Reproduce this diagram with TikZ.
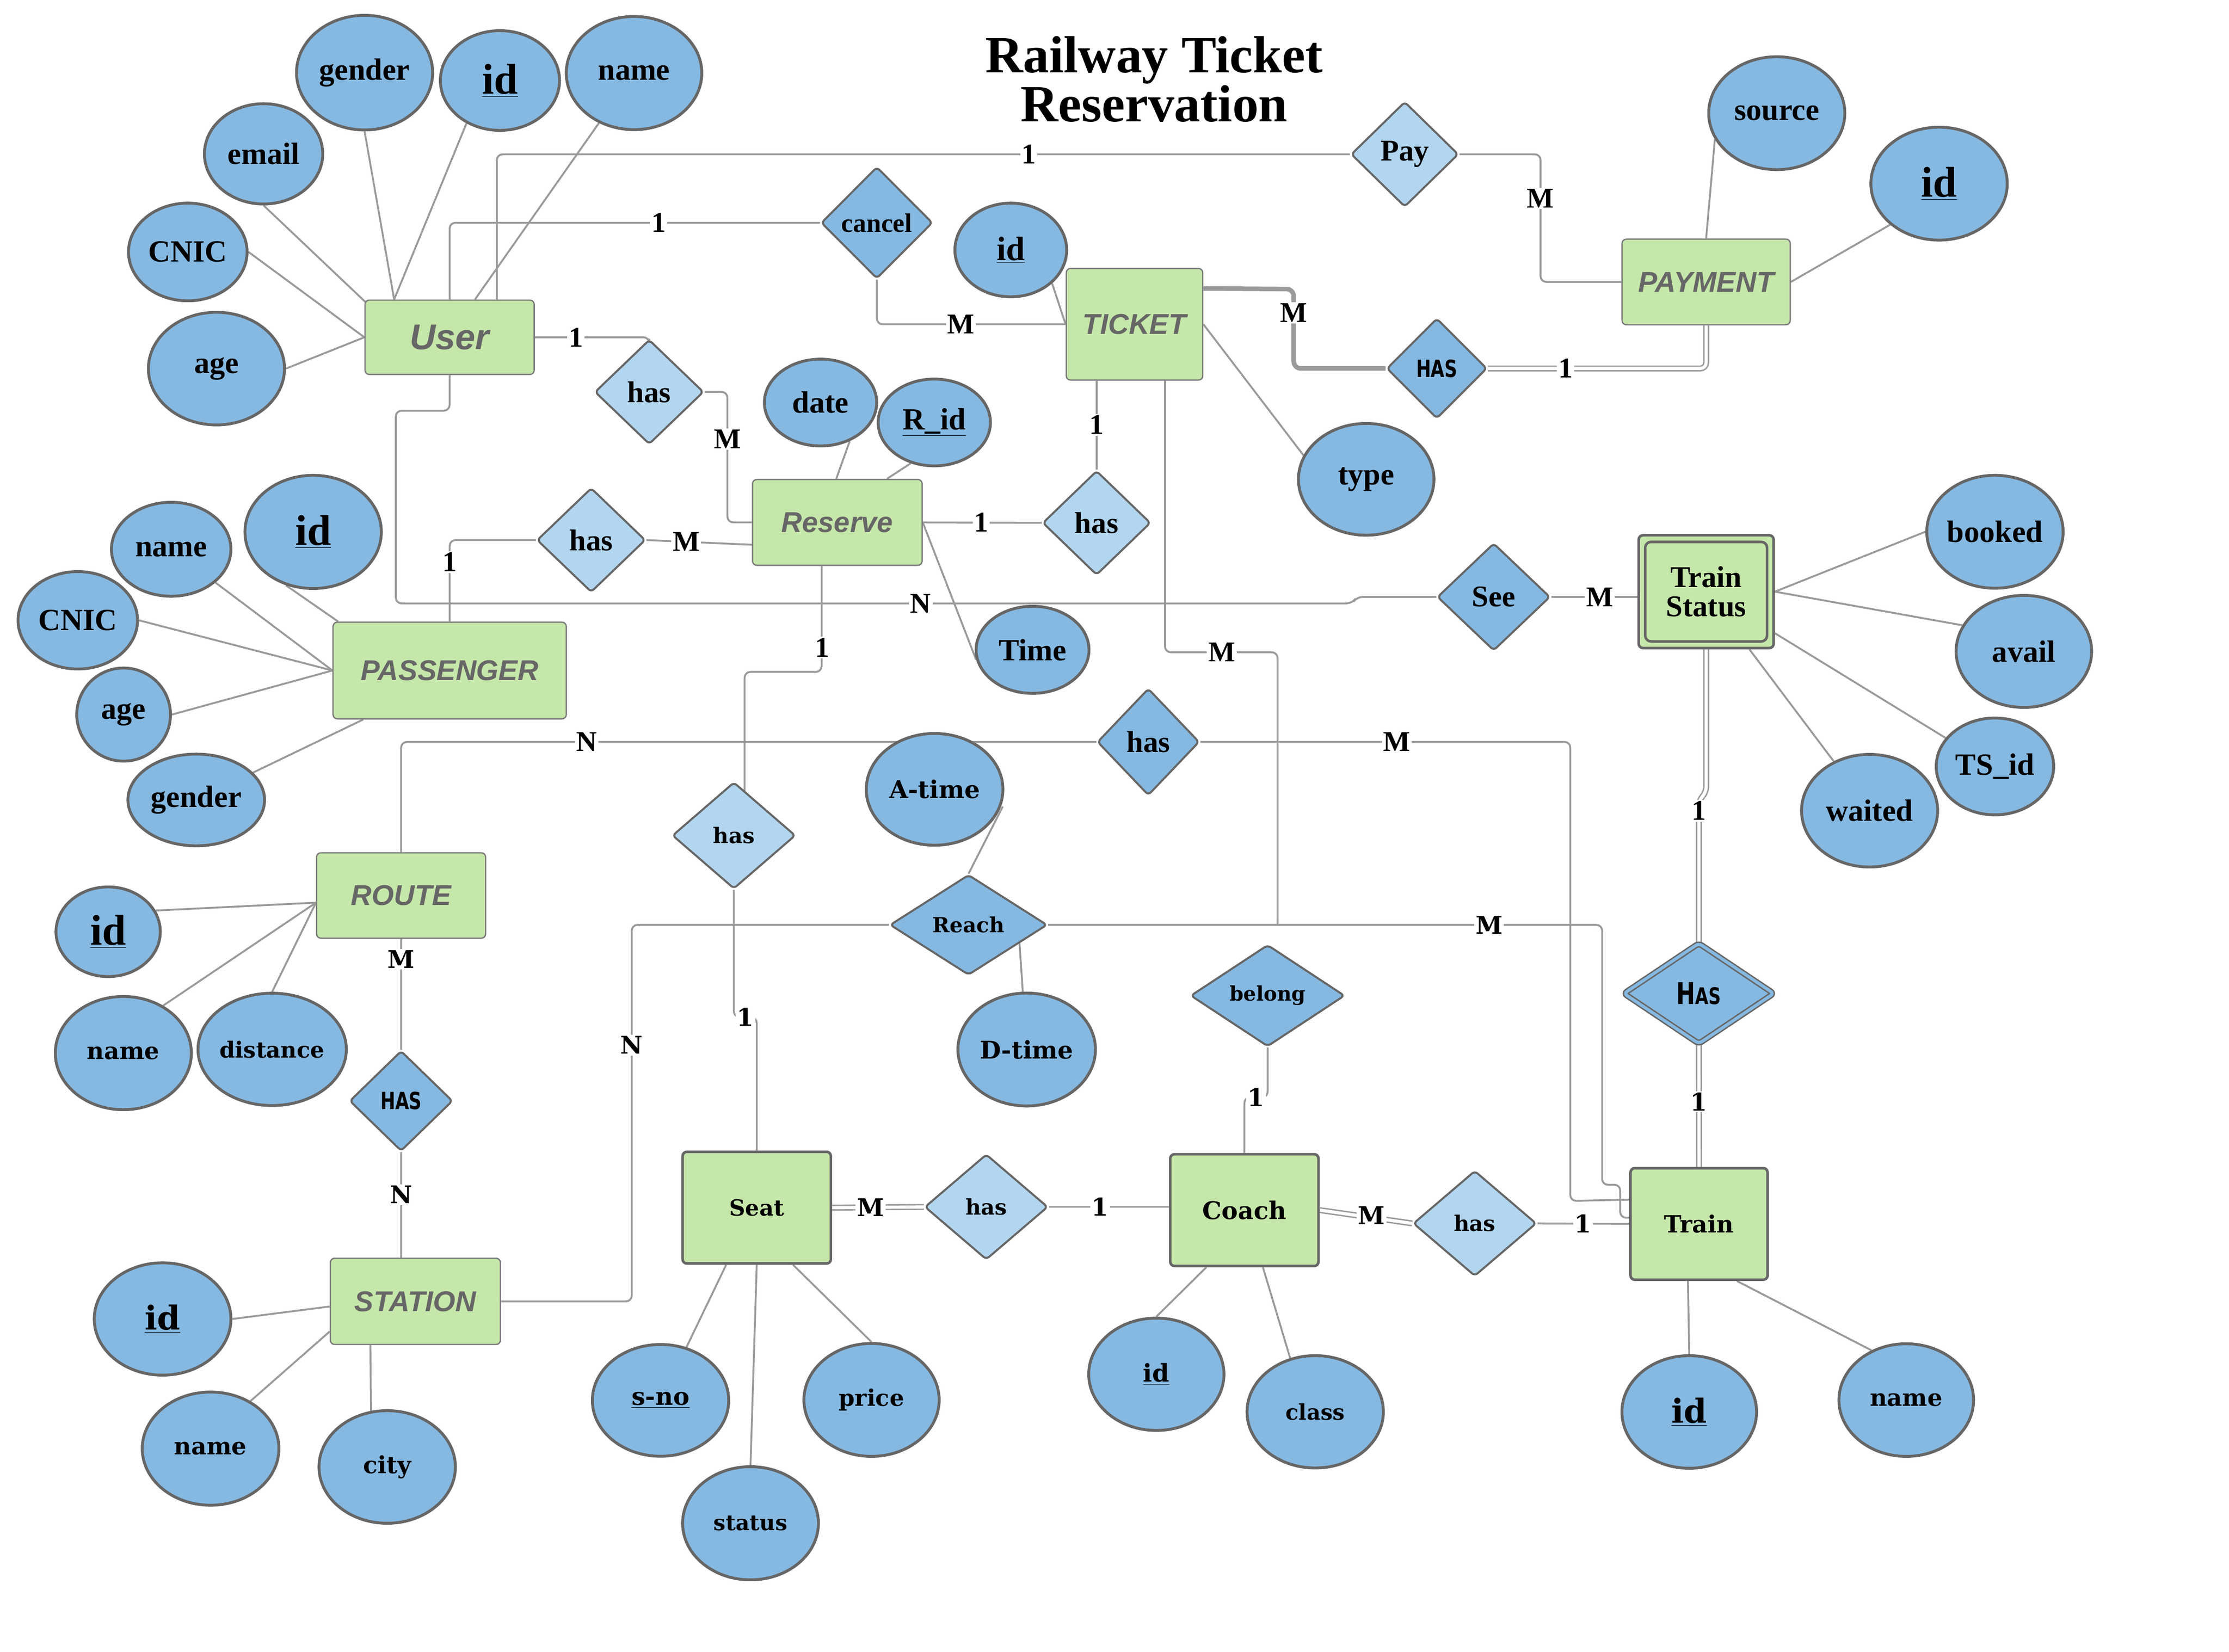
\documentclass[tikz,border=0pt]{standalone}
\usepackage{fontspec}
\setmainfont{Liberation Serif}
\newfontfamily\entfont{Liberation Sans}
\newfontfamily\wdfont{DejaVu Serif}
\newfontfamily\hvfont{DejaVu Sans}[FakeStretch=0.75]
\usetikzlibrary{shapes.geometric,calc}
\pgfdeclarelayer{bg}
\pgfsetlayers{bg,main}
\definecolor{attrfill}{HTML}{85B9E2}
\definecolor{relfill}{HTML}{B3D6F0}
\definecolor{entfill}{HTML}{C6E7AA}
\definecolor{edgec}{HTML}{666666}
\definecolor{entline}{HTML}{7A7A7A}
\definecolor{connc}{HTML}{9A9A9A}
\definecolor{enttext}{HTML}{666666}
\newcommand\fattr{\fontsize{21.5}{23}\selectfont\bfseries}
\newcommand\fidbig{\fontsize{30}{32}\selectfont\bfseries}
\newcommand\fidmid{\fontsize{23.5}{25}\selectfont\bfseries}
\newcommand\fwide{\wdfont\fontsize{16}{18}\selectfont\bfseries}
\newcommand\fent{\entfont\fontsize{20}{22}\selectfont\bfseries\itshape}
\newcommand\frel{\fontsize{21}{23}\selectfont\bfseries}
\newcommand\fcard{\fontsize{20}{20}\selectfont\bfseries}
\newcommand\fcardw{\wdfont\fontsize{17}{17}\selectfont\bfseries}
\newcommand\ftitle{\fontsize{36.5}{38}\selectfont\bfseries}
\newcommand\fhv{\hvfont\fontsize{16.5}{17}\selectfont\bfseries}
\begin{document}
\begin{tikzpicture}[x=1pt,y=-1pt,
  attr/.style 2 args={ellipse, draw=edgec, line width=2pt, fill=attrfill, inner sep=0pt, minimum width={2*#1pt}, minimum height={2*#2pt}, font=\fattr},
  rel/.style 2 args={diamond, draw=edgec, line width=1.4pt, rounded corners=2.5pt, fill=attrfill, inner sep=0pt, minimum width={#1pt}, minimum height={#2pt}, font=\frel},
  ent/.style 2 args={rectangle, draw=entline, line width=0.9pt, rounded corners=3pt, fill=entfill, inner sep=0pt, minimum width={#1pt}, minimum height={#2pt}, font=\fent, text=enttext},
  ents/.style 2 args={rectangle, draw=edgec, line width=1.8pt, rounded corners=3pt, fill=entfill, inner sep=0pt, minimum width={#1pt}, minimum height={#2pt}, font=\fwide},
  conn/.style={draw=connc, line width=1.3pt, rounded corners=4pt},
  aline/.style={draw=connc, line width=1.3pt},
  dbl/.style={draw=connc, line width=1pt, double=white, double distance=2.2pt, rounded corners=4pt},
  thk/.style={draw=connc, line width=3.2pt, rounded corners=5pt},
  card/.style={fill=white, inner sep=1pt, font=\fcard},
  cardw/.style={fill=white, inner sep=1pt, font=\fcardw}]
\useasboundingbox (0,0) rectangle (1556,1153);

% title
\node[font=\ftitle, anchor=base] (title1) at (805.6,50.7) {Railway Ticket};
\node[font=\ftitle, anchor=base] (title2) at (805.6,84.9) {Reservation};

% entities
\node[ent={118.1}{51.9}, font=\entfont\fontsize{25}{27}\selectfont\bfseries\itshape] (User) at (313.85,235.45) {User};
\node[ent={95.3}{77.9}] (TICKET) at (791.95,226.35) {TICKET};
\node[ent={117.4}{59.8}] (PAYMENT) at (1191,196.8) {PAYMENT};
\node[ent={118.4}{59.9}] (Reserve) at (584.5,364.65) {Reserve};
\node[ent={162.8}{67.5}] (PASSENGER) at (313.9,468.05) {PASSENGER};
\node[ent={118}{59.6}] (ROUTE) at (280,625.1) {ROUTE};
\node[ent={118.7}{60.2}] (STATION) at (289.95,908.4) {STATION};
\node[ents={103.5}{78}, font=\wdfont\fontsize{15.5}{17}\selectfont\bfseries] (Seat) at (528.25,843) {Seat};
\node[ents={103.5}{78}, font=\wdfont\fontsize{17}{19}\selectfont\bfseries] (Coach) at (868.65,844.7) {Coach};
\node[ents={95.7}{77.9}, font=\wdfont\fontsize{16.5}{18}\selectfont\bfseries] (Train) at (1186.05,854.35) {Train};
\node[ent={94.2}{78.7}, draw=edgec, line width=1.8pt] (TS) at (1191,413) {};
\node[rectangle, draw=edgec, line width=1.8pt, rounded corners=4pt, minimum width=85pt, minimum height=69.5pt, inner sep=0pt, align=center, font=\fontsize{21}{20.5}\selectfont\bfseries] (TSin) at (1191,413) {Train\\Status};

% relationships
\node[rel={75}{73.4}, fill=relfill] (Pay) at (980.6,107.7) {Pay};
\node[rel={77.8}{78}, font=\fontsize{18.5}{20}\selectfont\bfseries] (cancel) at (612.1,155.5) {cancel};
\node[rel={76}{73}, fill=relfill] (has1) at (453.2,273.6) {has};
\node[rel={70}{70}, font=\fhv] (HASa) at (1003,257.2) {HAS};
\node[rel={75.4}{72.8}, fill=relfill] (has2) at (765.5,365) {has};
\node[rel={75.8}{72.8}, fill=relfill] (has3) at (412.7,377) {has};
\node[rel={78.8}{75}] (See) at (1042.7,416.7) {See};
\node[rel={71.2}{74.6}] (has4) at (801.6,517.9) {has};
\node[rel={86}{74.4}, fill=relfill, font=\wdfont\fontsize{15}{17}\selectfont\bfseries] (has5) at (512.3,583.2) {has};
\node[rel={109.8}{70}, font=\wdfont\fontsize{14.5}{16}\selectfont\bfseries] (Reach) at (676.1,645.6) {Reach};
\node[rel={107.6}{71}, font=\wdfont\fontsize{14}{16}\selectfont\bfseries] (belong) at (884.9,695) {belong};
\node[rel={105}{70.4}, line width=1pt, double=attrfill, double distance=2.2pt] (HasD) at (1185.9,693.5) {\hvfont\bfseries\fontsize{21}{21}\selectfont H\fontsize{16}{16}\selectfont AS};
\node[rel={72}{70}, font=\fhv] (HASb) at (280,768.5) {HAS};
\node[rel={86}{73.6}, fill=relfill, font=\wdfont\fontsize{15}{17}\selectfont\bfseries] (has6) at (688.5,842.5) {has};
\node[rel={86}{73.6}, fill=relfill, font=\wdfont\fontsize{15}{17}\selectfont\bfseries] (has7) at (1029.5,854) {has};

% attributes
\node[attr={47.5}{40}] (ugender) at (254.5,50.7) {gender};
\node[attr={41.6}{34.8}, font=\fidbig] (uid) at (349,56.2) {\underline{id}};
\node[attr={47.3}{39.5}] (uname) at (442.6,51) {name};
\node[attr={41.3}{35}] (uemail) at (184,107.4) {email};
\node[attr={41.4}{34.1}] (ucnic) at (131.1,175.9) {CNIC};
\node[attr={47.5}{39.3}] (uage) at (151.1,257.3) {age};
\node[attr={39}{32.7}, font=\fidmid] (tid) at (705.6,174.5) {\underline{id}};
\node[attr={47.3}{39}] (ttype) at (953.7,334.6) {type};
\node[attr={47.5}{39.4}] (psource) at (1240.3,79) {source};
\node[attr={47.6}{39.4}, font=\fidbig] (pid) at (1353.6,128.2) {\underline{id}};
\node[attr={39.2}{30.3}] (rdate) at (572.8,281) {date};
\node[attr={39.2}{30.3}] (rrid) at (652.2,294.9) {\underline{R\_id}};
\node[attr={39.4}{30.4}] (rtime) at (720.8,453.6) {Time};
\node[attr={41.7}{32.8}] (psname) at (119.5,383.4) {name};
\node[attr={47.6}{39.5}, font=\fidbig] (psid) at (218.6,371.3) {\underline{id}};
\node[attr={41.7}{34}] (pscnic) at (54.3,433) {CNIC};
\node[attr={32.7}{32.5}] (psage) at (86.3,498.8) {age};
\node[attr={47.7}{32}] (psgender) at (137,558.4) {gender};
\node[attr={36.4}{31.3}, font=\fidbig] (roid) at (75.5,650.4) {\underline{id}};
\node[attr={47.5}{39.5}, font=\wdfont\fontsize{16.5}{18}\selectfont\bfseries] (roname) at (86.1,735.1) {name};
\node[attr={47.5}{39.2}, font=\wdfont\fontsize{15.5}{18}\selectfont\bfseries] (rodist) at (190,732.5) {distance};
\node[attr={47.7}{39.2}, font=\wdfont\fontsize{23}{25}\selectfont\bfseries] (stid) at (113.5,920.7) {\underline{id}};
\node[attr={47.7}{39.5}, font=\wdfont\fontsize{16.5}{18}\selectfont\bfseries] (stname) at (147,1011.2) {name};
\node[attr={47.6}{39.3}, font=\wdfont\fontsize{16.5}{18}\selectfont\bfseries] (stcity) at (270.3,1024) {city};
\node[attr={47.6}{39}, font=\wdfont\fontsize{17}{18}\selectfont\bfseries] (sesno) at (461.1,977.5) {\underline{s-no}};
\node[attr={47.2}{39.4}, font=\wdfont\fontsize{16}{18}\selectfont\bfseries] (seprice) at (608.4,977.2) {price};
\node[attr={47.4}{39.5}, font=\wdfont\fontsize{15}{18}\selectfont\bfseries] (sestatus) at (523.9,1063.3) {status};
\node[attr={47.2}{39.2}, font=\wdfont\fontsize{17}{18}\selectfont\bfseries] (coid) at (807.2,959.3) {\underline{id}};
\node[attr={47.6}{39.2}, font=\wdfont\fontsize{15}{18}\selectfont\bfseries] (coclass) at (918.1,985.5) {class};
\node[attr={47}{39.3}, font=\wdfont\fontsize{23}{25}\selectfont\bfseries] (trid) at (1179.2,985.6) {\underline{id}};
\node[attr={47}{39.3}, font=\wdfont\fontsize{16.5}{18}\selectfont\bfseries] (trname) at (1330.7,977.3) {name};
\node[attr={47.6}{39.4}] (tsbooked) at (1392.6,371.2) {booked};
\node[attr={47.3}{39.1}] (tsavail) at (1412.8,454.7) {avail};
\node[attr={41}{33.8}] (tsid) at (1392.6,535) {TS\_id};
\node[attr={47.5}{39.3}] (tswaited) at (1305.1,565.9) {waited};
\node[attr={47.7}{39}, font=\wdfont\fontsize{17}{18}\selectfont\bfseries] (atime) at (652.4,551) {A-time};
\node[attr={48}{39.4}, font=\wdfont\fontsize{17}{18}\selectfont\bfseries] (dtime) at (716.7,732.6) {D-time};

\begin{pgfonlayer}{bg}
% attribute links
\draw[aline] (ugender.south) -- ($(User.north west)+(20.8,0)$);
\draw[aline] (uid.-128) -- ($(User.north west)+(20.8,0)$);
\draw[aline] (uname) -- ($(User.north west)+(77.2,0)$);
\draw[aline] (uemail.south) -- ($(User.north west)+(1,2)$);
\draw[aline] (ucnic.east) -- (User.west);
\draw[aline] (uage.east) -- (User.west);
\draw[aline] (tid.-39) -- (TICKET.west);
\draw[aline] (TICKET.east) -- (ttype.159);
\draw[aline] (psource.-157) -- (PAYMENT.north);
\draw[aline] (pid.-140) -- (PAYMENT.east);
\draw[aline] (rdate.-53) -- ($(Reserve.north west)+(58.9,0)$);
\draw[aline] (rrid.-120) -- ($(Reserve.north west)+(94.3,0)$);
\draw[aline] (Reserve.east) -- (rtime.-170);
\draw[aline] (psid.-117) -- ($(PASSENGER.north west)+(4,0)$);
\draw[aline] (psname) -- (PASSENGER.west);
\draw[aline] (pscnic.east) -- (PASSENGER.west);
\draw[aline] (psage.east) -- (PASSENGER.west);
\draw[aline] (psgender) -- ($(PASSENGER.south west)+(21.5,0)$);
\draw[aline] (roid.24) -- ($(ROUTE.west)+(0,5)$);
\draw[aline] (roname.50) -- ($(ROUTE.west)+(0,5)$);
\draw[aline] (rodist.north) -- ($(ROUTE.west)+(0,5)$);
\draw[aline] (stid.east) -- ($(STATION.west)+(0,3.6)$);
\draw[aline] (stname.50) -- ($(STATION.south west)+(0,-9.5)$);
\draw[aline] ($(STATION.south west)+(28.4,0)$) -- ($(stcity.north)+(-11.3,1.1)$);
\draw[aline] (sesno.64) -- ($(Seat.south west)+(31.3,0)$);
\draw[aline] (sestatus.north) -- (Seat.south);
\draw[aline] (seprice.north) -- ($(Seat.south west)+(78,0)$);
\draw[aline] (coid.north) -- ($(Coach.south west)+(26.1,0)$);
\draw[aline] (coclass.115) -- ($(Coach.south west)+(65.6,0)$);
\draw[aline] (trid.north) -- ($(Train.south west)+(41,0)$);
\draw[aline] (trname.125) -- ($(Train.south west)+(75.2,0)$);
\draw[aline] (tsbooked.west) -- (TS.east);
\draw[aline] (tsavail.157) -- (TS.east);
\draw[aline] (tsid.150) -- ($(TS.east)+(0,29)$);
\draw[aline] (tswaited.126) -- ($(TS.south east)+(-17.8,0)$);
\draw[aline] ($(atime.east)+(-1.1,12)$) -- (Reach.north);
\draw[aline] ($(Reach.east)!0.36!(Reach.south)$) -- (dtime);

% relationship links
\draw[conn] ($(User.north west)+(92.5,0)$) |- (Pay.west);
\draw[conn] (Pay.east) -- (1075.4,107.7) |- (PAYMENT.west);
\draw[conn] (User.north) |- (cancel.west);
\draw[conn] (cancel.south) |- (TICKET.west);
\draw[conn] (User.east) -| (has1.north);
\draw[conn] (has1.east) -- (507.8,273.6) |- (Reserve.west);
\draw[conn] (User.south) -- (313.85,286.7) -- (276.3,286.7) -- (276.3,421.2) -- (944,421.2) -- (947,416.7) -- (See.west);
\draw[conn] (See.east) -- (See.east -| TS.west);
\draw[thk] ($(TICKET.north east)+(0,14.4)$) -- (903.1,201.8) |- (HASa.west);
\draw[dbl] (HASa.east) -| (PAYMENT.south);
\draw[conn] (has2.north |- TICKET.south) -- (has2.north);
\draw[conn] (Reserve.east) -- (has2.west);
\draw[conn] (PASSENGER.north) |- (has3.west);
\draw[conn] (has3.east) -- ($(Reserve.west)+(0,15.6)$);
\draw[conn] ($(TICKET.south west)+(69.4,0)$) |- (891.8,455.3) -- (891.8,645.6);
\draw[conn] (ROUTE.north) |- (has4.west);
\draw[conn] (has4.east) -- (1096.2,517.9) -- (1096.2,838.3) -- ($(Train.north west)+(0,22.9)$);
\draw[conn] (Reach.east) -- (1118.4,645.6) -- (1118.4,827) -- (1131,827) -- (1131,850) -- ($(Train.west)+(0,-4.35)$);
\draw[conn] (Reach.west) -- (441,645.6) -- (441,908.4) -- (STATION.east);
\draw[conn] ($(Reserve.south west)+(48.7,0)$) |- (519.8,469) -- (519.8,552.5);
\draw[conn] (has5.south) -- (512.3,710) -- (528.25,710) -- (Seat.north);
\draw[conn] (ROUTE.south) -- (HASb.north);
\draw[conn] (HASb.south) -- (HASb.south |- STATION.north);
\draw[dbl] (Seat.east) -- (has6.west);
\draw[conn] (has6.east) -- (has6.east -| Coach.west);
\draw[conn] (belong.south) -- (884.9,766) -- (868.65,766) -- (Coach.north);
\draw[dbl] (Coach.east) -- (has7.west);
\draw[conn] (has7.east) -- (Train.west);
\draw[dbl] (TS.south) -- (1191,553.4) -- (1185.9,558.4) -- (HasD.north);
\draw[dbl] (HasD.south) -- (Train.north);
\end{pgfonlayer}

% cardinality labels
\node[card] (c1) at (718.2,107.7) {1};
\node[card] (c2) at (1075.4,138.5) {M};
\node[card] (c3) at (459.8,155.5) {1};
\node[card] (c4) at (670.8,226.35) {M};
\node[card] (c5) at (402,235.45) {1};
\node[card] (c6) at (507.8,306.5) {M};
\node[card] (c7) at (903.1,218.3) {M};
\node[card] (c8) at (1092.9,257.2) {1};
\node[card] (c9) at (765.5,296.6) {1};
\node[card] (c10) at (685,364.65) {1};
\node[card] (c11) at (313.9,392.4) {1};
\node[card] (c12) at (479,378.2) {M};
\node[card] (c13) at (642.7,421.2) {N};
\node[card] (c14) at (1116.7,416.7) {M};
\node[card] (c15) at (574,452) {1};
\node[card] (c16) at (852.8,455.3) {M};
\node[card] (c17) at (409.5,517.9) {N};
\node[card] (c18) at (975.1,517.9) {M};
\node[card] (c19) at (1185.9,566) {1};
\node[cardw] (c20) at (280,669.6) {M};
\node[cardw] (c21) at (280,834) {N};
\node[cardw] (c22) at (441,729.6) {N};
\node[cardw] (c23) at (1039.5,645.6) {M};
\node[cardw] (c24) at (520.3,710) {1};
\node[cardw] (c25) at (607.7,842.75) {M};
\node[cardw] (c26) at (768,842.5) {1};
\node[cardw] (c27) at (876.8,766) {1};
\node[cardw] (c28) at (957.5,848.5) {M};
\node[cardw] (c29) at (1105,854) {1};
\node[cardw] (c30) at (1185.9,769) {1};
\end{tikzpicture}
\end{document}
